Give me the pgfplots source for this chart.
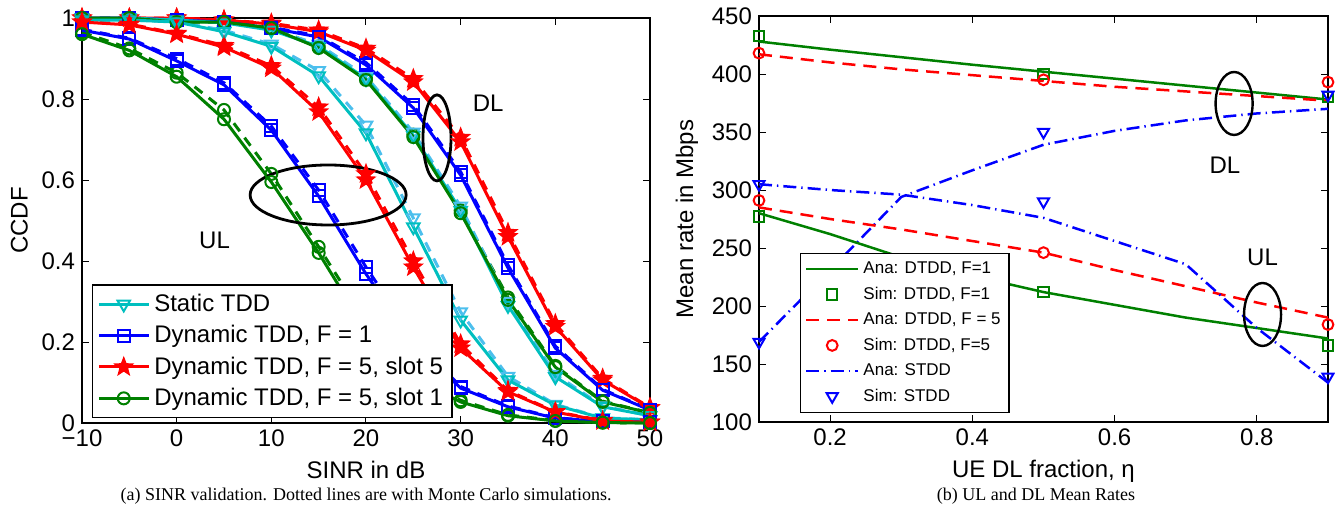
\documentclass[border=0pt]{standalone}
\usepackage{pgfplots}
\pgfplotsset{compat=1.18}
\usepackage{fontspec}
\setmainfont{Liberation Sans}
\newfontfamily\capfont{Liberation Serif}
\definecolor{mcyan}{rgb}{0,0.75,0.75}
\definecolor{mlblue}{rgb}{0.3,0.75,0.93}
\definecolor{mgreen}{rgb}{0,0.5,0}
\pgfdeclareplotmark{pstar}{%
  \pgfpathmoveto{\pgfpointpolar{90}{1.3\pgfplotmarksize}}%
  \pgfpathlineto{\pgfpointpolar{126}{0.55\pgfplotmarksize}}%
  \pgfpathlineto{\pgfpointpolar{162}{1.3\pgfplotmarksize}}%
  \pgfpathlineto{\pgfpointpolar{198}{0.55\pgfplotmarksize}}%
  \pgfpathlineto{\pgfpointpolar{234}{1.3\pgfplotmarksize}}%
  \pgfpathlineto{\pgfpointpolar{270}{0.55\pgfplotmarksize}}%
  \pgfpathlineto{\pgfpointpolar{306}{1.3\pgfplotmarksize}}%
  \pgfpathlineto{\pgfpointpolar{342}{0.55\pgfplotmarksize}}%
  \pgfpathlineto{\pgfpointpolar{18}{1.3\pgfplotmarksize}}%
  \pgfpathlineto{\pgfpointpolar{54}{0.55\pgfplotmarksize}}%
  \pgfpathclose
  \pgfusepathqfillstroke}
\pgfplotsset{
  mybase/.style={scale only axis, anchor=south west, clip=false,
    tick align=inside, xtick pos=both, ytick pos=both,
    major tick length=3.5pt, tick style={line width=0.5pt, black},
    axis line style={line width=0.6pt},
    every tick label/.append style={font=\fontsize{12}{14}\selectfont},
    label style={font=\fontsize{12}{14}\selectfont}},
  cy/.style={mcyan, line width=1.5pt, mark=triangle, mark size=3.6pt, mark options={solid, rotate=180, line width=1pt}},
  cyd/.style={mlblue, line width=1.5pt, dash pattern=on 5pt off 4pt, mark=triangle, mark size=3.6pt, mark options={solid, rotate=180, line width=1pt}},
  bl/.style={blue, line width=1.5pt, mark=square, mark size=3pt, mark options={solid, line width=1pt}},
  bld/.style={blue, line width=1.5pt, dash pattern=on 5pt off 4pt, mark=square, mark size=3pt, mark options={solid, line width=1pt}},
  rd/.style={red, line width=1.5pt, mark=pstar, mark size=3.4pt, mark options={solid, line width=0.8pt}},
  rdd/.style={red, line width=1.5pt, dash pattern=on 5pt off 4pt, mark=pstar, mark size=3.4pt, mark options={solid, line width=0.8pt}},
  gr/.style={mgreen, line width=1.5pt, mark=o, mark size=3pt, mark options={solid, line width=1pt}},
  grd/.style={mgreen, line width=1.5pt, dash pattern=on 5pt off 4pt, mark=o, mark size=3pt, mark options={solid, line width=1pt}},
}
\begin{document}
\begin{tikzpicture}
\useasboundingbox (0pt,0pt) rectangle (667.5pt,258pt);
% ---------------- left: SINR CCDF ----------------
\begin{axis}[mybase, at={(41pt,46.5pt)}, width=284pt, height=202.5pt,
  xmin=-10, xmax=50, ymin=0, ymax=1,
  xtick={-10,0,10,20,30,40,50}, xticklabels={−10,0,10,20,30,40,50},
  ytick={0,0.2,0.4,0.6,0.8,1}, yticklabels={0,0.2,0.4,0.6,0.8,1},
  xlabel={SINR in dB}, ylabel={CCDF},
  legend style={at={(rel axis cs:0.017,0.012)}, anchor=south west, draw=black, line width=0.6pt, fill=white,
    font=\fontsize{12}{14}\selectfont, row sep=1.5pt, inner sep=2.5pt},
  legend cell align=left,
  legend image code/.code={\draw[mark repeat=2,mark phase=2] plot coordinates {(0pt,0pt) (12.5pt,0pt) (25pt,0pt)};}]
% dashed (simulation) curves
\addplot[cyd, forget plot] coordinates {(-10,0.995)(-5,0.995)(0,0.99)(5,0.97)(10,0.935)(15,0.87)(20,0.735)(25,0.506)(30,0.274)(35,0.115)(40,0.046)(45,0.013)(50,0.008)};
\addplot[bld, forget plot] coordinates {(-10,0.972)(-5,0.95)(0,0.9)(5,0.84)(10,0.733)(15,0.575)(20,0.385)(25,0.21)(30,0.09)(35,0.042)(40,0.013)(45,0.004)(50,0.002)};
\addplot[rdd, forget plot] coordinates {(-10,0.99)(-5,0.985)(0,0.962)(5,0.932)(10,0.882)(15,0.78)(20,0.615)(25,0.4)(30,0.195)(35,0.08)(40,0.028)(45,0.006)(50,0.002)};
\addplot[grd, forget plot] coordinates {(-10,0.965)(-5,0.925)(0,0.865)(5,0.773)(10,0.615)(15,0.435)(20,0.25)(25,0.12)(30,0.056)(35,0.02)(40,0.006)(45,0.001)(50,0)};
\addplot[rdd, forget plot] coordinates {(-10,1)(-5,1)(0,1)(5,0.995)(10,0.987)(15,0.97)(20,0.925)(25,0.85)(30,0.705)(35,0.47)(40,0.245)(45,0.11)(50,0.038)};
\addplot[bld, forget plot] coordinates {(-10,1)(-5,1)(0,0.995)(5,0.99)(10,0.977)(15,0.956)(20,0.89)(25,0.785)(30,0.62)(35,0.39)(40,0.19)(45,0.083)(50,0.033)};
\addplot[grd, forget plot] coordinates {(-10,1)(-5,1)(0,0.99)(5,0.99)(10,0.977)(15,0.93)(20,0.852)(25,0.712)(30,0.525)(35,0.31)(40,0.141)(45,0.054)(50,0.025)};
\addplot[cyd, forget plot] coordinates {(-10,1)(-5,1)(0,0.995)(5,0.99)(10,0.972)(15,0.935)(20,0.856)(25,0.718)(30,0.535)(35,0.3)(40,0.12)(45,0.042)(50,0.018)};
% solid (analysis) curves, DL
\addplot[rd, forget plot] coordinates {(-10,1)(-5,1)(0,1)(5,0.995)(10,0.985)(15,0.966)(20,0.92)(25,0.842)(30,0.694)(35,0.46)(40,0.238)(45,0.106)(50,0.037)};
\addplot[bl, forget plot] coordinates {(-10,1)(-5,1)(0,0.995)(5,0.99)(10,0.975)(15,0.953)(20,0.884)(25,0.778)(30,0.612)(35,0.383)(40,0.185)(45,0.081)(50,0.032)};
\addplot[cy, forget plot] coordinates {(-10,1)(-5,1)(0,0.995)(5,0.988)(10,0.97)(15,0.93)(20,0.85)(25,0.71)(30,0.525)(35,0.29)(40,0.114)(45,0.04)(50,0.018)};
\addplot[gr, forget plot] coordinates {(-10,1)(-5,1)(0,0.99)(5,0.99)(10,0.975)(15,0.926)(20,0.847)(25,0.706)(30,0.518)(35,0.304)(40,0.138)(45,0.052)(50,0.025)};
% solid (analysis) curves, UL -- with legend
\addplot[cy] coordinates {(-10,0.995)(-5,0.995)(0,0.99)(5,0.966)(10,0.93)(15,0.857)(20,0.716)(25,0.484)(30,0.254)(35,0.106)(40,0.044)(45,0.012)(50,0.008)};
\addlegendentry{Static TDD}
\addplot[bl] coordinates {(-10,0.97)(-5,0.948)(0,0.894)(5,0.835)(10,0.723)(15,0.56)(20,0.368)(25,0.2)(30,0.086)(35,0.04)(40,0.012)(45,0.004)(50,0.002)};
\addlegendentry{Dynamic TDD, F = 1}
\addplot[rd] coordinates {(-10,0.99)(-5,0.983)(0,0.96)(5,0.928)(10,0.876)(15,0.768)(20,0.6)(25,0.385)(30,0.185)(35,0.077)(40,0.027)(45,0.005)(50,0.002)};
\addlegendentry{Dynamic TDD, F = 5, slot 5}
\addplot[gr] coordinates {(-10,0.96)(-5,0.92)(0,0.855)(5,0.75)(10,0.595)(15,0.42)(20,0.23)(25,0.11)(30,0.052)(35,0.018)(40,0.005)(45,0.001)(50,0)};
\addlegendentry{Dynamic TDD, F = 5, slot 1}
\draw[line width=1.4pt] (axis cs:16,0.563) ellipse [x radius=39pt, y radius=15pt];
\draw[line width=1.4pt] (axis cs:27.5,0.704) ellipse [x radius=7pt, y radius=21.5pt];
\node[font=\fontsize{12}{14}\selectfont] at (axis cs:4,0.452) {UL};
\node[font=\fontsize{12}{14}\selectfont] at (axis cs:32.9,0.79) {DL};
\end{axis}
% ---------------- right: mean rates ----------------
\begin{axis}[mybase, at={(379.5pt,47pt)}, width=284.5pt, height=203pt,
  xmin=0.1, xmax=0.9, ymin=100, ymax=450,
  xtick={0.2,0.4,0.6,0.8}, xticklabels={0.2,0.4,0.6,0.8},
  ytick={100,150,200,250,300,350,400,450}, yticklabels={100,150,200,250,300,350,400,450},
  xlabel={UE DL fraction, η}, ylabel={Mean rate in Mbps},
  legend style={at={(rel axis cs:0.072,0.022)}, anchor=south west, draw=black, line width=0.6pt, fill=white,
    font=\fontsize{8.5}{10}\selectfont, row sep=1.2pt, inner sep=2.2pt},
  legend cell align=left,
  legend image code/.code={\draw[mark repeat=2,mark phase=2] plot coordinates {(0pt,0pt) (13pt,0pt) (26pt,0pt)};}]
\addplot[mgreen, line width=1.25pt] coordinates {(0.1,428)(0.2,421)(0.3,414.5)(0.4,408)(0.5,402)(0.6,396)(0.7,390)(0.8,384)(0.9,378)};
\addlegendentry{Ana: DTDD, F=1}
\addplot[mgreen, only marks, mark=square, mark size=2.6pt, mark options={line width=1pt}] coordinates {(0.1,433)(0.5,400)(0.9,380)};
\addlegendentry{Sim: DTDD, F=1}
\addplot[red, line width=1.25pt, dash pattern=on 6.5pt off 4pt] coordinates {(0.1,417)(0.2,410)(0.3,404)(0.4,399)(0.5,394)(0.6,389)(0.7,385)(0.8,381)(0.9,377)};
\addlegendentry{Ana: DTDD, F = 5}
\addplot[red, only marks, mark=o, mark size=2.7pt, mark options={line width=1pt}] coordinates {(0.1,418)(0.5,395)(0.9,393)};
\addlegendentry{Sim: DTDD, F=5}
\addplot[blue, line width=1.25pt, dash pattern=on 6.5pt off 2.5pt on 0.7pt off 2.5pt] coordinates {(0.1,169)(0.2,231)(0.3,294)(0.4,317)(0.5,339)(0.6,351)(0.7,360)(0.8,366)(0.9,370)};
\addlegendentry{Ana: STDD}
\addplot[blue, only marks, mark=triangle, mark size=3.2pt, mark options={rotate=180, line width=1pt}] coordinates {(0.1,169)(0.5,350)(0.9,382)};
\addlegendentry{Sim: STDD}
% UL curves
\addplot[mgreen, line width=1.25pt, forget plot] coordinates {(0.1,280)(0.2,262)(0.3,242)(0.4,226)(0.5,212)(0.6,201)(0.7,190)(0.8,181)(0.9,172)};
\addplot[mgreen, only marks, mark=square, mark size=2.6pt, mark options={line width=1pt}, forget plot] coordinates {(0.1,277)(0.5,212)(0.9,166)};
\addplot[red, line width=1.25pt, dash pattern=on 6.5pt off 4pt, forget plot] coordinates {(0.1,285)(0.2,275)(0.3,266)(0.4,256)(0.5,246)(0.6,231)(0.7,217)(0.8,203)(0.9,190)};
\addplot[red, only marks, mark=o, mark size=2.7pt, mark options={line width=1pt}, forget plot] coordinates {(0.1,291)(0.5,246)(0.9,184)};
\addplot[blue, line width=1.25pt, dash pattern=on 6.5pt off 2.5pt on 0.7pt off 2.5pt, forget plot] coordinates {(0.1,305)(0.2,300)(0.3,296)(0.4,287)(0.5,276)(0.6,256)(0.7,236)(0.8,181)(0.9,134)};
\addplot[blue, only marks, mark=triangle, mark size=3.2pt, mark options={rotate=180, line width=1pt}, forget plot] coordinates {(0.1,305)(0.5,290)(0.9,139)};
\draw[line width=1.2pt] (axis cs:0.768,374.6) ellipse [x radius=9.25pt, y radius=15.75pt];
\draw[line width=1.2pt] (axis cs:0.808,192.7) ellipse [x radius=9.25pt, y radius=15.75pt];
\node[font=\fontsize{12}{14}\selectfont] at (axis cs:0.755,321.5) {DL};
\node[font=\fontsize{12}{14}\selectfont] at (axis cs:0.808,242) {UL};
\end{axis}
% captions
\node[font=\capfont\fontsize{9}{11}\selectfont, anchor=base] at (183pt,8pt) {(a) SINR validation. Dotted lines are with Monte Carlo simulations.};
\node[font=\capfont\fontsize{9}{11}\selectfont, anchor=base] at (518pt,8pt) {(b) UL and DL Mean Rates};
\end{tikzpicture}
\end{document}
